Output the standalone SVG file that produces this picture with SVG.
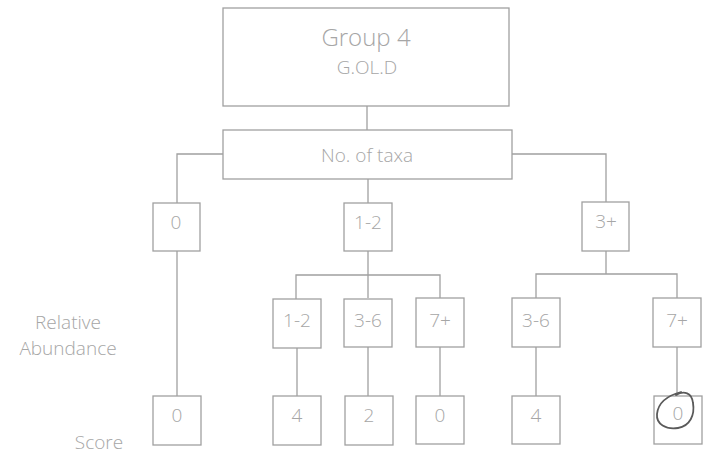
<svg xmlns="http://www.w3.org/2000/svg" width="708" height="456" viewBox="0 0 708 456">
  <style>
    .box { fill: #fff; stroke: #a0a0a0; stroke-width: 1.3; }
    .wire { fill: none; stroke: #a0a0a0; stroke-width: 1.3; }
    .t { font-family: "Open Sans", "DejaVu Sans", sans-serif; font-weight: 300; fill: #a6a6a6; text-anchor: middle; font-size: 19px; }
    .big { font-size: 24px; }
  </style>
  <rect width="708" height="456" fill="#fff"/>

  <g id="connectors">
    <path class="wire" d="M367 106 V130"/>
    <path class="wire" d="M223 154 H177 V203"/>
    <path class="wire" d="M512 154 H606 V202"/>
    <path class="wire" d="M368 179 V203"/>
    <path class="wire" d="M177 251 V396"/>
    <path class="wire" d="M368 251 V275"/>
    <path class="wire" d="M296 299 V275 H440 V298"/>
    <path class="wire" d="M368 275 V298"/>
    <path class="wire" d="M606 251 V274"/>
    <path class="wire" d="M536 298 V274 H677 V298"/>
    <path class="wire" d="M297 348 V396"/>
    <path class="wire" d="M368 347 V396"/>
    <path class="wire" d="M440 347 V396"/>
    <path class="wire" d="M536 347 V396"/>
    <path class="wire" d="M677 347 V396"/>
  </g>

  <g id="root">
    <rect class="box" x="223" y="8" width="286" height="98"/>
    <text class="t big" x="366" y="46">Group 4</text>
    <text class="t" x="367" y="74">G.OL.D</text>
  </g>
  <g id="taxa">
    <rect class="box" x="223" y="130" width="289" height="49"/>
    <text class="t" x="367" y="162">No. of taxa</text>
  </g>

  <g id="taxa-0"><rect class="box" x="153" y="203" width="47" height="48"/><text class="t" x="176" y="229">0</text></g>
  <g id="taxa-1-2"><rect class="box" x="344" y="203" width="48" height="48"/><text class="t" x="368" y="229">1-2</text></g>
  <g id="taxa-3plus"><rect class="box" x="582" y="202" width="47" height="49"/><text class="t" x="606" y="228">3+</text></g>

  <g id="ab-1-2"><rect class="box" x="273" y="299" width="48" height="49"/><text class="t" x="297" y="327">1-2</text></g>
  <g id="ab-3-6a"><rect class="box" x="344" y="299" width="48" height="48"/><text class="t" x="368" y="327">3-6</text></g>
  <g id="ab-7plus-a"><rect class="box" x="416" y="298" width="48" height="49"/><text class="t" x="440" y="327">7+</text></g>
  <g id="ab-3-6b"><rect class="box" x="512" y="298" width="48" height="49"/><text class="t" x="536" y="327">3-6</text></g>
  <g id="ab-7plus-b"><rect class="box" x="653" y="298" width="48" height="49"/><text class="t" x="677" y="327">7+</text></g>

  <g id="score-a"><rect class="box" x="153" y="396" width="48" height="49"/><text class="t" x="177" y="422">0</text></g>
  <g id="score-b"><rect class="box" x="273" y="396" width="48" height="49"/><text class="t" x="297" y="422">4</text></g>
  <g id="score-c"><rect class="box" x="345" y="396" width="48" height="49"/><text class="t" x="369" y="422">2</text></g>
  <g id="score-d"><rect class="box" x="416" y="396" width="48" height="48"/><text class="t" x="440" y="422">0</text></g>
  <g id="score-e"><rect class="box" x="512" y="396" width="48" height="48"/><text class="t" x="536" y="422">4</text></g>
  <g id="score-f">
    <rect class="box" x="654" y="396" width="48" height="48"/>
    <text class="t" x="678" y="420">0</text>
    <!-- hand-drawn ring round the chosen score -->
    <path d="M676 395 C684 390 692 393 693 403 C695 415 690 426 678 428 C666 430 656 424 657 414 C658 404 666 396 681 392" fill="none" stroke="#5a5a5a" stroke-width="1.8" stroke-linecap="round"/>
  </g>

  <g id="labels">
    <text class="t" x="68" y="329">Relative</text>
    <text class="t" x="68" y="355">Abundance</text>
    <text class="t" x="99" y="449">Score</text>
  </g>
</svg>
